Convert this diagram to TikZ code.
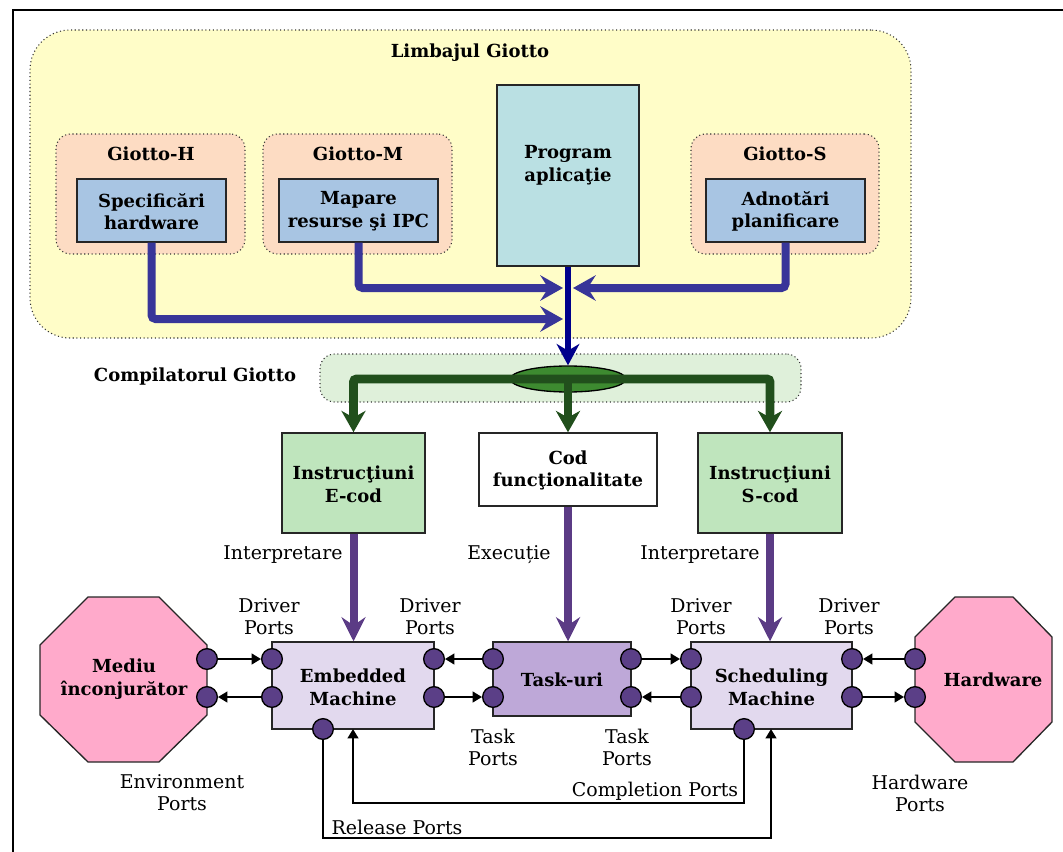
\documentclass[tikz,border=0pt]{standalone}
\usepackage{fontspec}
\setmainfont{DejaVu Serif}
\usetikzlibrary{arrows.meta,shapes.geometric,fit,calc}

\definecolor{yellowbg}{HTML}{FFFDC8}
\definecolor{peach}{HTML}{FDDCC3}
\definecolor{skyblue}{HTML}{A8C5E3}
\definecolor{progc}{HTML}{BAE0E3}
\definecolor{arrowblue}{HTML}{383599}
\definecolor{navyc}{HTML}{00008B}
\definecolor{compbg}{HTML}{DFF0DA}
\definecolor{ellc}{HTML}{3D8A30}
\definecolor{bargreen}{HTML}{214F1C}
\definecolor{codegreen}{HTML}{BFE5BD}
\definecolor{arrowpurple}{HTML}{5B3B85}
\definecolor{machc}{HTML}{E2D9EE}
\definecolor{taskc}{HTML}{BEA8D8}
\definecolor{portc}{HTML}{5B3F87}
\definecolor{pinkc}{HTML}{FFAACB}

\tikzset{
  lbl/.style={font=\fontsize{14.2pt}{16.5pt}\selectfont, align=center, inner sep=0pt},
  blbl/.style={font=\fontsize{13.5pt}{17pt}\selectfont\bfseries, align=center, inner sep=0pt},
  region/.style={draw=black!80, dotted, line width=0.8pt, inner sep=0pt},
  box/.style={draw=black!85, line width=1.1pt, inner sep=0pt},
  port/.style={circle, draw=black, line width=1pt, fill=portc, minimum size=15.5pt, inner sep=0pt},
  octo/.style={draw=black!85, line width=1pt, fill=pinkc},
  bluearrow/.style={draw=arrowblue, line width=6pt, rounded corners=3pt,
                    -{Stealth[length=17pt,width=19pt,inset=6pt]}},
  navyarrow/.style={draw=navyc, line width=4.5pt,
                    -{Stealth[length=16pt,width=17pt,inset=5pt]}},
  greenarrow/.style={draw=bargreen, line width=6.4pt, rounded corners=2pt,
                     -{Stealth[length=16pt,width=18pt,inset=5pt]}},
  purplearrow/.style={draw=arrowpurple, line width=6pt,
                      -{Stealth[length=18pt,width=18pt,inset=6pt]}},
  sarrow/.style={draw=black, line width=1.5pt, -{Triangle[length=7pt,width=8pt]}},
}

\begin{document}
\begin{tikzpicture}[x=0.75pt,y=-0.75pt]
\useasboundingbox (0,0) rectangle (1063,852);

% page frame
\draw[line width=1.5pt] (13,852) -- (13,10) -- (1063,10);

% ---------- Giotto language ----------
\node[region, fill=yellowbg, rounded corners=30pt, fit={(30,30)(911,338)}] (lang) {};
\node[blbl] (langt) at (470,53) {Limbajul Giotto};

\node[region, fill=peach, rounded corners=11pt, fit={(56,134)(245,254)}] (gh) {};
\node[blbl] (ght) at (151,154) {Giotto-H};
\node[box, fill=skyblue, fit={(77,179)(226,242)}] (spec) {};
\node[blbl] (spect) at (151.5,211.5) {Specificări\\hardware};

\node[region, fill=peach, rounded corners=11pt, fit={(263,134)(452,254)}] (gm) {};
\node[blbl] (gmt) at (358,154) {Giotto-M};
\node[box, fill=skyblue, fit={(279,179)(438,242)}] (map) {};
\node[blbl] (mapt) at (358.5,211.5) {Mapare\\resurse şi IPC};

\node[region, fill=peach, rounded corners=11pt, fit={(691,134)(879,254)}] (gs) {};
\node[blbl] (gst) at (785,154) {Giotto-S};
\node[box, fill=skyblue, fit={(706,179)(865,242)}] (adn) {};
\node[blbl] (adnt) at (785.5,211.5) {Adnotări\\planificare};

\node[box, fill=progc, fit={(497,85)(639,266)}] (prog) {};
\node[blbl] (progt) at (568,165.5) {Program\\aplicaţie};

% joins into the program flow
\coordinate (jh) at (563,319);
\coordinate (jm) at (563,288);
\coordinate (js) at (573,288);
\draw[bluearrow] (spec.south) |- (jh);
\draw[bluearrow] (map.south) |- (jm);
\draw[bluearrow] (adn.south) |- (js);

% ---------- compiler ----------
\node[region, fill=compbg, rounded corners=11pt, fit={(320,354)(801,402)}] (comp) {};
\node[blbl] (compt) at (195,377) {Compilatorul Giotto};
\node[ellipse, draw=black, line width=1pt, fill=ellc, minimum width=87pt,
      minimum height=19.5pt, inner sep=0pt] (ell) at (568,379) {};
\draw[navyarrow] (prog.south) -- (ell.north);

% generated code
\node[box, fill=codegreen, fit={(282,433)(425,533)}] (ecod) {};
\node[blbl] (ecodt) at (353.5,484) {Instrucţiuni\\E-cod};
\node[box, fill=white, fit={(479,433)(657,506)}] (cod) {};
\node[blbl] (codt) at (568,470.5) {Cod\\funcţionalitate};
\node[box, fill=codegreen, fit={(698,433)(842,533)}] (scod) {};
\node[blbl] (scodt) at (770,484) {Instrucţiuni\\S-cod};

\draw[greenarrow] (ell.center) -| (ecod.north);
\draw[greenarrow] (ell.center) -| (scod.north);
\draw[greenarrow] (ell.center) -- (cod.north);

% ---------- runtime ----------
\node[box, fill=machc, fit={(272,642)(434,729)}] (emb) {};
\node[blbl] (embt) at (353,687) {Embedded\\Machine};
\node[box, fill=taskc, fit={(493,642)(631,716)}] (task) {};
\node[blbl] (taskt) at (562,680) {Task-uri};
\node[box, fill=machc, fit={(691,642)(852,729)}] (sched) {};
\node[blbl] (schedt) at (771.5,687) {Scheduling\\Machine};

\draw[purplearrow] (ecod.south) -- (ecod.south |- emb.north);
\draw[purplearrow] (cod.south) -- (cod.south |- task.north);
\draw[purplearrow] (scod.south) -- (scod.south |- sched.north);

\node[lbl] (int1) at (283,555) {Interpretare};
\node[lbl] (exe) at (509,555) {Execuție};
\node[lbl] (int2) at (700,555) {Interpretare};

% environment and hardware
\draw[octo] (40,645) -- (88,597) -- (159,597) -- (207,645) -- (207,715)
  -- (159,762) -- (88,762) -- (40,715) -- cycle;
\node[blbl] (env) at (124,679) {Mediu\\înconjurător};
\draw[octo] (915,637) -- (955,597) -- (1013,597) -- (1052,637) -- (1052,722)
  -- (1013,762) -- (955,762) -- (915,722) -- cycle;
\node[blbl] (hw) at (993,680) {Hardware};

% ports
\node[port] (m1) at (207,659) {};
\node[port] (m2) at (207,697) {};
\node[port] (e1) at (272,659) {};
\node[port] (e2) at (272,697) {};
\node[port] (e3) at (434,659) {};
\node[port] (e4) at (434,697) {};
\node[port] (e5) at (323,729) {};
\node[port] (t1) at (493,659) {};
\node[port] (t2) at (493,697) {};
\node[port] (t3) at (631,659) {};
\node[port] (t4) at (631,697) {};
\node[port] (s1) at (691,659) {};
\node[port] (s2) at (691,697) {};
\node[port] (s3) at (852,659) {};
\node[port] (s4) at (852,697) {};
\node[port] (s5) at (744,729) {};
\node[port] (h1) at (915,659) {};
\node[port] (h2) at (915,697) {};

\draw[sarrow] (m1) -- (e1);
\draw[sarrow] (e2) -- (m2);
\draw[sarrow] (t1) -- (e3);
\draw[sarrow] (e4) -- (t2);
\draw[sarrow] (t3) -- (s1);
\draw[sarrow] (s2) -- (t4);
\draw[sarrow] (h1) -- (s3);
\draw[sarrow] (s4) -- (h2);

% completion and release
\coordinate (embin) at (353,729);
\coordinate (schin) at (771,729);
\draw[sarrow] (s5) -- ++(0,74) -| (embin);
\draw[sarrow] (e5) -- ++(0,109) -| (schin);

% port labels
\node[lbl] (dp1) at (269,617) {Driver\\Ports};
\node[lbl] (dp2) at (430,617) {Driver\\Ports};
\node[lbl] (dp3) at (701,617) {Driver\\Ports};
\node[lbl] (dp4) at (849,617) {Driver\\Ports};
\node[lbl] (tp1) at (493,747) {Task\\Ports};
\node[lbl] (tp2) at (627,747) {Task\\Ports};
\node[lbl] (envp) at (182,793) {Environment\\Ports};
\node[lbl] (hwp) at (920,793) {Hardware\\Ports};
\node[lbl] (cpl) at (655,791) {Completion Ports};
\node[lbl] (rel) at (397,827) {Release Ports};
\end{tikzpicture}
\end{document}
